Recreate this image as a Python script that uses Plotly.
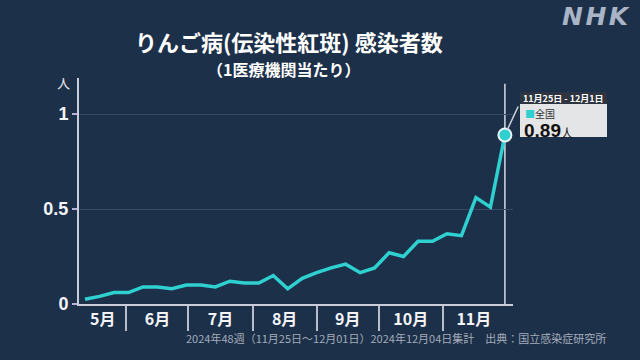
import plotly.graph_objects as go
import pandas as pd

# ---- data ----
week_end_dates = [
    "2024-05-12", "2024-05-19", "2024-05-26", "2024-06-02", "2024-06-09",
    "2024-06-16", "2024-06-23", "2024-06-30", "2024-07-07", "2024-07-14",
    "2024-07-21", "2024-07-28", "2024-08-04", "2024-08-11", "2024-08-18",
    "2024-08-25", "2024-09-01", "2024-09-08", "2024-09-15", "2024-09-22",
    "2024-09-29", "2024-10-06", "2024-10-13", "2024-10-20", "2024-10-27",
    "2024-11-03", "2024-11-10", "2024-11-17", "2024-11-24", "2024-12-01",
]
cases_per_clinic = [
    0.025, 0.04, 0.06, 0.06, 0.09, 0.09, 0.08, 0.10, 0.10, 0.09,
    0.12, 0.11, 0.11, 0.15, 0.08, 0.135, 0.165, 0.19, 0.21, 0.165,
    0.19, 0.27, 0.25, 0.33, 0.33, 0.37, 0.36, 0.56, 0.51, 0.89,
]
month_labels = ["5月", "6月", "7月", "8月", "9月", "10月", "11月"]
month_starts = ["2024-05-01", "2024-06-01", "2024-07-01", "2024-08-01",
                "2024-09-01", "2024-10-01", "2024-11-01", "2024-12-01"]
y_ticks = [0, 0.5, 1]
y_ticktext = ["0", "0.5", "1"]
last_period = "11月25日 - 12月1日"
region = "全国"

# ---- style ----
BG = "#1d3049"
CYAN = "#2fd0d0"
FONT = "Noto Sans CJK JP"
W, H = 640, 360
L, R, T, B = 79, 127, 78, 56
x_range = ["2024-05-09 02:00", "2024-12-04 22:00"]
y_range = [0, 1.19]

pw, ph = W - L - R, H - T - B
def px(x):
    return (x - L) / pw
def py(y):
    return (H - B - y) / ph

# visible month mid-points for labels
xr0, xr1 = pd.Timestamp(x_range[0]), pd.Timestamp(x_range[1])
mid_vals = []
for a, b in zip(month_starts[:-1], month_starts[1:]):
    a, b = max(pd.Timestamp(a), xr0), min(pd.Timestamp(b), xr1)
    mid_vals.append(a + (b - a) / 2)

fig = go.Figure()
fig.add_trace(go.Scatter(
    x=week_end_dates, y=cases_per_clinic, mode="lines",
    line=dict(color=CYAN, width=3.5), hoverinfo="skip"))
fig.add_trace(go.Scatter(
    x=[week_end_dates[-1]], y=[cases_per_clinic[-1]], mode="markers",
    marker=dict(size=13, color=CYAN, line=dict(color="#e8f4f8", width=2)),
    hoverinfo="skip"))

last_x, val = week_end_dates[-1], cases_per_clinic[-1]

# vertical line at the latest week
fig.add_shape(type="line", xref="x", yref="y",
              x0=last_x, x1=last_x, y0=0, y1=1.16,
              line=dict(color="#d5d9e2", width=1.5), layer="below")
# label box (body + header), in paper coordinates
fig.add_shape(type="rect", xref="paper", yref="paper",
              x0=px(520), x1=px(607), y0=py(137), y1=py(104),
              fillcolor="#e4e5e7", line=dict(width=0), layer="above")
fig.add_shape(type="rect", xref="paper", yref="paper",
              x0=px(520), x1=px(607), y0=py(104), y1=py(92),
              fillcolor="#2e3440", line=dict(width=0), layer="above")

fig.update_layout(
    width=W, height=H, showlegend=False,
    paper_bgcolor=BG, plot_bgcolor=BG,
    margin=dict(l=L, r=R, t=T, b=B),
    font=dict(family=FONT, color="white"),
    xaxis=dict(
        type="date", range=x_range,
        tickvals=mid_vals, ticktext=month_labels,
        ticks="", ticklen=0,
        tickfont=dict(size=16, color="#f2f4f8", family=FONT, weight="bold"),
        showgrid=False, zeroline=False,
        showline=True, linecolor="#c9ceda", linewidth=2,
        minor=dict(ticks="outside", ticklen=25, tickcolor="#b8bfcc", tickwidth=1.5,
                   tickmode="array", tickvals=month_starts[1:-1], showgrid=False),
    ),
    yaxis=dict(
        range=y_range, tickvals=y_ticks, ticktext=y_ticktext,
        ticks="outside", ticklen=5, tickcolor="#b9b2d8", tickwidth=1.5,
        tickfont=dict(size=18, color="#f2f4f8", family="Liberation Sans", weight="bold"),
        showgrid=True, gridcolor="#3a4862", gridwidth=1,
        zeroline=False, showline=True, linecolor="#c9ceda", linewidth=2,
    ),
)

def txt(text, x, y, size, color="white", family=FONT, xanchor="center"):
    return dict(text=text, x=px(x), y=py(y), xref="paper", yref="paper",
                xanchor=xanchor, yanchor="middle", showarrow=False,
                font=dict(size=size, color=color, family=family))

ann = []
ann.append(txt("<b>りんご病(伝染性紅斑) 感染者数</b>", 289, 41, 22))
ann.append(txt("<b>（1医療機関当たり）</b>", 283, 69, 16))
ann.append(txt("人", 63, 82, 13, "#e6e8ee"))
ann.append(txt("2024年48週（11月25日～12月01日）2024年12月04日集計　出典：国立感染症研究所",
               396, 338, 11, "#a3acbb"))
ann.append(txt("<b><i>N\u200aH\u200aK</i></b>", 596, 16, 25, "#a9b5c6", "DejaVu Sans"))
# connector from the latest point to the label box
ann.append(dict(x=last_x, y=val, xref="x", yref="y",
                text="", showarrow=True, arrowhead=0, arrowwidth=1.5,
                arrowcolor="#cfd3da", ax=14, ay=-30, standoff=6))
# label texts
ann.append(txt(f"<b>{last_period}</b>", 563.5, 98.5, 9, "white"))
ann.append(txt(f"<span style='color:{CYAN}'>■</span>"
               f"<span style='color:#333'>{region}</span>",
               523, 113, 10, "#333", xanchor="left"))
ann.append(txt(f"<b>{val:.2f}</b><span style='font-size:12px'>人</span>",
               522, 130, 19, "#111", "Liberation Sans", xanchor="left"))
fig.update_layout(annotations=ann)

fig.write_html("out.html", config=dict(displayModeBar=False),
               post_script="document.body.style.margin='0';")
